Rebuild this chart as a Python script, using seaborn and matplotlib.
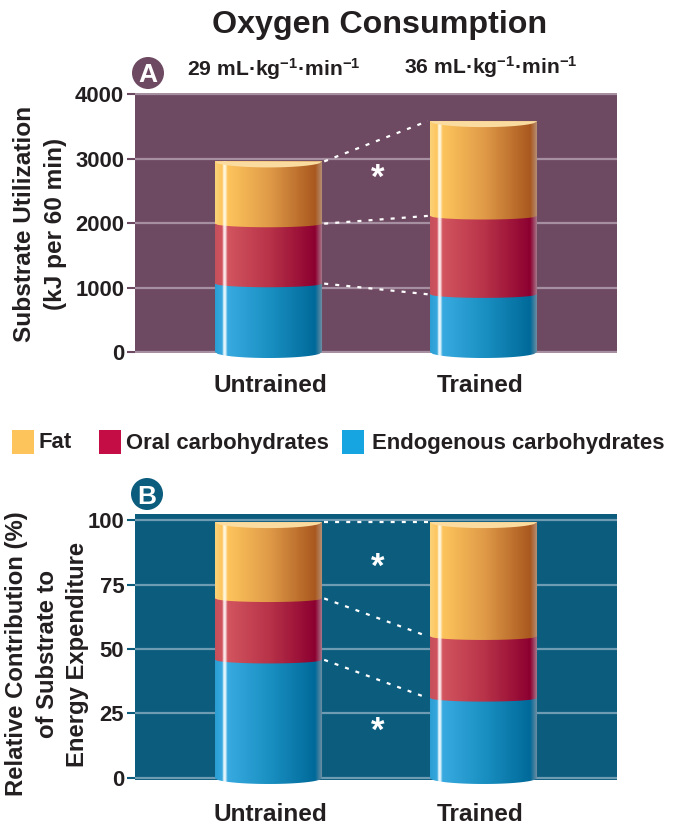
import numpy as np
import pandas as pd
import matplotlib
matplotlib.use("Agg")
import matplotlib.pyplot as plt
import seaborn as sns
from matplotlib.colors import LinearSegmentedColormap
from matplotlib.path import Path
from matplotlib.patches import PathPatch, Rectangle, Ellipse
from matplotlib.transforms import ScaledTranslation

groups = ["Untrained", "Trained"]
series = ["Endogenous carbohydrates", "Oral carbohydrates", "Fat"]
a_endo = [1060, 895]
a_oral = [930, 1215]
a_fat = [965, 1470]
b_endo = [45.8, 31.0]
b_oral = [23.8, 23.9]
b_fat = [29.6, 44.3]
a_ticks = [0, 1000, 2000, 3000, 4000]
b_ticks = [0, 25, 50, 75, 100]
legend_labels = ["Fat", "Oral carbohydrates", "Endogenous carbohydrates"]
legend_colors = ["#fdc45c", "#c50d45", "#16a5e0"]

W, H = 676, 825
sns.set_theme(style="white")
plt.rcParams["font.family"] = ["Liberation Sans", "DejaVu Sans"]
plt.rcParams["mathtext.fontset"] = "custom"
plt.rcParams["mathtext.bf"] = "Liberation Sans:bold"
plt.rcParams["mathtext.rm"] = "Liberation Sans:bold"
plt.rcParams["mathtext.it"] = "Liberation Sans:bold"
plt.rcParams["mathtext.default"] = "bf"

INK = "#231f20"
FS = 15.9


def fx(p):
    return p / W


def fy(p):
    return 1 - p / H


grads = {
    "Fat": ["#fbd27a", "#fdc55d", "#fff6dc", "#fff6dc", "#fdc45c", "#e09b48", "#a9581f", "#b8967e"],
    "Oral carbohydrates": ["#c4505c", "#d0525e", "#fbe6e8", "#fbe6e8", "#d2555f", "#b93349", "#8c0030", "#ab8595"],
    "Endogenous carbohydrates": ["#2a9dd2", "#36a8de", "#e4f5fd", "#e4f5fd", "#38aae0", "#1a90c2", "#006a9a", "#7a92a4"],
}
stops = [0, 0.065, 0.08, 0.095, 0.115, 0.5, 0.93, 1.0]


def panel(ax, endo, oral, fat, ticks, ylim, bg, grid, ppu):
    vals = {"Endogenous carbohydrates": endo, "Oral carbohydrates": oral, "Fat": fat}
    tops = np.cumsum([endo, oral, fat], axis=0)
    df = pd.DataFrame({
        "group": groups * 3,
        "series": sum([[s] * 2 for s in series], []),
        "value": [v for s in series for v in vals[s]],
        "top": tops.flatten(),
    })
    ax.set_facecolor(bg)
    for s in reversed(series):
        sub = df[df["series"] == s]
        sns.barplot(data=sub, x="group", y="top", order=groups, color=grads[s][4],
                    saturation=1, width=0.498, ax=ax, zorder=2, linewidth=0)
    xpos = [(p.get_x(), p.get_width()) for p in ax.patches[:2]]
    xlim = (-0.621, 1.621)
    cap = 6 / ppu
    seam = 3.6 / ppu
    n = 40
    for i, (x0, w) in enumerate(xpos):
        xs = np.linspace(x0, x0 + w, n)
        bulge = np.sqrt(np.clip(1 - ((xs - x0 - w / 2) / (w / 2)) ** 2, 0, 1))
        lows = [0] + list(tops[:-1, i])
        for k, s in enumerate(series):
            lo, hi = lows[k], tops[k, i]
            d = cap if k == 0 else seam
            verts = list(zip(xs, lo - d * bulge)) + [(x0 + w, hi), (x0, hi), (x0, lo)]
            patch = PathPatch(Path(verts), transform=ax.transData, fc="none", ec="none")
            ax.add_patch(patch)
            cmap = LinearSegmentedColormap.from_list(s, list(zip(stops, grads[s])))
            im = ax.imshow(np.linspace(0, 1, 256)[None, :], cmap=cmap, aspect="auto",
                           extent=[x0, x0 + w, lo - d * 1.2, hi], zorder=3 + k)
            im.set_clip_path(patch)
            im.set_clip_box(ax.figure.bbox)
        hi = tops[-1, i]
        lens = list(zip(xs, hi - cap * bulge))
        ax.fill([v[0] for v in lens], [v[1] for v in lens], color="#fbdca0", lw=0, zorder=7)
    for k in range(3):
        ax.plot([xpos[0][0] + xpos[0][1] + 0.01, xpos[1][0] - 0.01], [tops[k, 0], tops[k, 1]],
                color="white", lw=1.6, ls=(0, (1.8, 3.2)), zorder=2.5)
    ax.set_xlim(*xlim)
    ax.set_ylim(*ylim)
    ax.set_yticks(ticks)
    ax.grid(axis="y", color=grid, lw=1.6, zorder=1)
    ax.set_axisbelow(True)
    for sp in ax.spines.values():
        sp.set_visible(False)
    ax.tick_params(axis="y", left=True, length=5.8, width=1.5, color=bg, pad=2,
                   labelsize=FS, labelcolor=INK)
    ax.tick_params(axis="x", bottom=False, length=0, labelsize=17.6, labelcolor=INK)
    for t in ax.get_yticklabels() + ax.get_xticklabels():
        t.set_fontweight("bold")
    ax.set_xlabel("")


fig = plt.figure(figsize=(W / 100, H / 100), dpi=100, facecolor="white")
axA = fig.add_axes([fx(135), fy(353), fx(617) - fx(135), fy(93.3) - fy(353)])
axB = fig.add_axes([fx(135), fy(780), fx(617) - fx(135), fy(514) - fy(780)])

panel(axA, a_endo, a_oral, a_fat, a_ticks, (-15.5, 4011), "#6e4a62", "#a68fa0", 0.06443)
panel(axB, b_endo, b_oral, b_fat, b_ticks, (-0.78, 102.33), "#0b5c7d", "#6f9bb3", 2.58)
axA.tick_params(axis="x", pad=15.4)
axB.tick_params(axis="x", pad=16.4)

for ax in (axA, axB):
    for lab, dx in zip(ax.get_xticklabels(), [1.5, -3]):
        lab.set_transform(lab.get_transform() + ScaledTranslation(dx / 100, 0, fig.dpi_scale_trans))

axA.set_ylabel("Substrate Utilization\n(kJ per 60 min)", fontsize=17.6, fontweight="bold",
               color=INK, linespacing=1.43)
axA.yaxis.set_label_coords(fx(67), fy(224), transform=fig.transFigure)
axB.set_ylabel("Relative Contribution (%)\nof Substrate to\nEnergy Expenditure", fontsize=17.2,
               fontweight="bold", color=INK, linespacing=1.42)
axB.yaxis.set_label_coords(fx(89.5), fy(654), transform=fig.transFigure)

fig.text(fx(380), fy(25), "Oxygen Consumption", ha="center", va="center", fontsize=23.2,
         fontweight="bold", color=INK)
fig.text(fx(274), fy(69), "29 mL·kg$^{-1}$·min$^{-1}$", ha="center", va="center", fontsize=15.2,
         fontweight="bold", color=INK)
fig.text(fx(490.5), fy(67), "36 mL·kg$^{-1}$·min$^{-1}$", ha="center", va="center", fontsize=15.2,
         fontweight="bold", color=INK)

for (cx, cy, c, txt) in [(148, 73, "#6e4a62", "A"), (147, 494, "#0b5c7d", "B")]:
    fig.add_artist(Ellipse((fx(cx), fy(cy)), 32 / W, 32 / H, transform=fig.transFigure, fc=c, ec="none"))
    fig.text(fx(cx), fy(cy), txt, ha="center", va="center_baseline", color="white",
             fontsize=19, fontweight="bold")

for c, lab, x0, x1, tx in zip(legend_colors, legend_labels, [12, 99, 342], [34, 121, 364], [38, 126, 372]):
    fig.add_artist(Rectangle((fx(x0), fy(454)), (x1 - x0) / W, 24 / H, transform=fig.transFigure,
                             fc=c, ec="none"))
    fig.text(fx(tx), fy(443), lab, ha="left", va="center", fontsize=FS, fontweight="bold", color=INK)

for py in [172, 561, 725]:
    fig.text(fx(378), fy(py + 6), "*", ha="center", va="center", color="white", fontsize=25,
             fontweight="bold", zorder=10)

fig.savefig("out.png", dpi=100)
